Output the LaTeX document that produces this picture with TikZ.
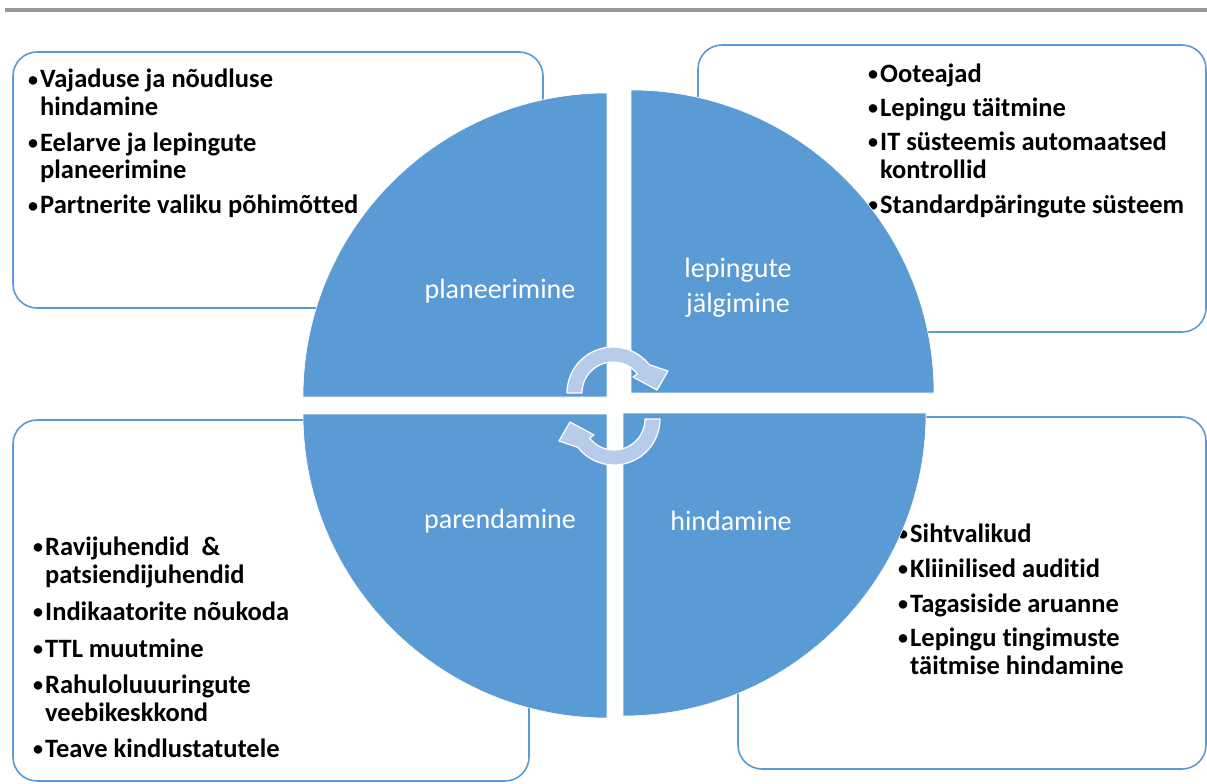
\documentclass[tikz,border=0pt]{standalone}
\usepackage{fontspec}
\setmainfont{Carlito}[Ligatures=NoCommon]
\definecolor{quadblue}{HTML}{5B9BD5}
\definecolor{arrowblue}{HTML}{B7CBEA}
\colorlet{rulegray}{gray!80}
\newcommand{\bul}{\makebox[12pt][l]{\raisebox{1.5pt}{\fontsize{20pt}{20pt}\selectfont •}}}
\newcommand{\ind}{\hspace*{12pt}}
\tikzset{
    boxsty/.style={draw=quadblue,line width=1.6pt,rounded corners=24pt,fill=white},
    quadsty/.style={fill=quadblue,draw=white,line width=0.6pt},
    itemsty/.style={inner sep=0pt,anchor=base west,font=\fontsize{26.5pt}{28pt}\bfseries\selectfont},
    labsty/.style={text=white,align=center,font=\fontsize{28pt}{35pt}\selectfont},
    arrsty/.style={fill=arrowblue,draw=white,line width=1.2pt,line join=round},
}

\begin{document}
\begin{tikzpicture}[x=1pt,y=1pt,yscale=-1]
\useasboundingbox (0,0) rectangle (1207,784);
% rule at the top
\fill[rulegray] (5,8) rectangle (1207,12.5);

% boxes with the lists
\draw[boxsty] (13,52) rectangle (543,308);
\draw[boxsty] (698,45) rectangle (1206,332);
\draw[boxsty] (13,420) rectangle (529,781);
\draw[boxsty] (738,417) rectangle (1206,769);

\node[itemsty] (tllist) at (28,88) {\parbox[t]{420pt}{\raggedright
  \bul Vajaduse ja nõudluse\\ \ind hindamine\\[7pt]
  \bul Eelarve ja lepingute\\ \ind planeerimine\\[7pt]
  \bul Partnerite valiku põhimõtted}};
\node[itemsty] (trlist) at (868,82) {\parbox[t]{420pt}{\raggedright
  \bul Ooteajad\\[6pt]
  \bul Lepingu täitmine\\[6pt]
  \bul IT süsteemis automaatsed\\ \ind kontrollid\\[7pt]
  \bul Standardpäringute süsteem}};
\node[itemsty] (bllist) at (33,555) {\parbox[t]{420pt}{\raggedright
  \bul Ravijuhendid~~\&\\ \ind patsiendijuhendid\\[9pt]
  \bul Indikaatorite nõukoda\\[9pt]
  \bul TTL muutmine\\[8pt]
  \bul Rahuloluuuringute\\ \ind veebikeskkond\\[8pt]
  \bul Teave kindlustatutele}};
\node[itemsty] (brlist) at (898,542) {\parbox[t]{420pt}{\raggedright
  \bul Sihtvalikud\\[7pt]
  \bul Kliinilised auditid\\[7pt]
  \bul Tagasiside aruanne\\[6pt]
  \bul Lepingu tingimuste\\ \ind täitmise hindamine}};

% the four quarters
\fill[quadsty] (607,397) -- (303,397) arc[start angle=180,end angle=270,radius=304pt] -- cycle;
\fill[quadsty] (631,393) -- (631,90) arc[start angle=270,end angle=360,radius=303pt] -- cycle;
\fill[quadsty] (623,413) -- (926,413) arc[start angle=0,end angle=90,radius=303pt] -- cycle;
\fill[quadsty] (607,414) -- (607,718) arc[start angle=90,end angle=180,radius=304pt] -- cycle;

\node[labsty] (plan) at (500,291) {planeerimine};
\node[labsty] (jalg) at (738,288) {lepingute\\jälgimine};
\node[labsty] (parend) at (500,521) {parendamine};
\node[labsty] (hind) at (731,521) {hindamine};

% cycle arrows
\filldraw[arrsty] (567,393) arc[start angle=180,end angle=322,radius=46pt]
  -- (668,371) -- (657,390) -- (633,377)
  -- ([shift={(613,393)}]322:31pt) arc[start angle=322,end angle=180,radius=31pt] -- cycle;
\filldraw[arrsty] (660,419) arc[start angle=0,end angle=142,radius=46pt]
  -- (559,441) -- (570,422) -- (594,435)
  -- ([shift={(614,419)}]142:31pt) arc[start angle=142,end angle=0,radius=31pt] -- cycle;
\end{tikzpicture}
\end{document}
